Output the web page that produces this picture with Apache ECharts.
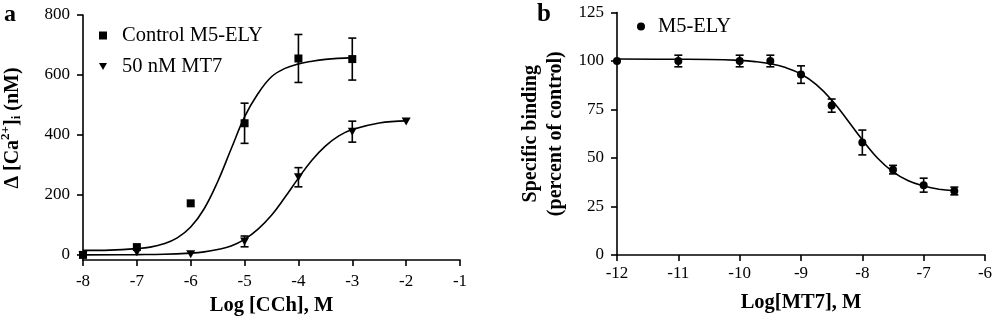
<!DOCTYPE html>
<html>
<head>
<meta charset="utf-8">
<script src="https://cdn.jsdelivr.net/npm/echarts@6/dist/echarts.min.js"></script>
<style>
html,body{margin:0;padding:0;background:#fff;}
#chart{width:1000px;height:321px;}
</style>
</head>
<body>
<div id="chart"></div>
<script>
// ---------- Panel a data ----------
const cchLogX = [-8, -7, -6, -5, -4, -3];
const controlMean = [0, 26, 172, 439, 655, 653];
const controlSem = [0, 0, 0, 67, 80, 70];
const mt7LogX = [-8, -7, -6, -5, -4, -3, -2];
const mt7Mean = [0, 9, 2, 45, 259, 411, 445];
const mt7Sem = [0, 0, 0, 18, 32, 35, 0];
const controlFitX = [-8, -7.5, -7, -6.75, -6.5, -6.25, -6, -5.75, -5.5, -5.25, -5, -4.75, -4.5, -4.25, -4, -3.75, -3.5, -3];
const controlFitY = [15, 16, 21, 26, 37, 57, 93, 154, 244, 353, 460, 538, 594, 622, 637, 646, 652, 658];
const mt7FitX = [-8, -7, -6.5, -6, -5.75, -5.5, -5.25, -5, -4.75, -4.5, -4.25, -4, -3.75, -3.5, -3.25, -3, -2.5, -2];
const mt7FitY = [0, 1, 2, 6, 10, 18, 30, 52, 86, 132, 192, 256, 316, 363, 397, 418, 440, 447];
const aYTicks = [0, 200, 400, 600, 800];

// ---------- Panel b data ----------
const mt7ConcX = [-12, -11, -10, -9.5, -9, -8.5, -8, -7.5, -7, -6.5];
const bindingMean = [100, 100, 100, 100, 93, 77, 58, 44, 36, 33];
const bindingSem = [0, 3, 3, 3, 4.5, 3.4, 6.4, 2.2, 3.6, 2];
const bindingFitX = [-12, -11, -10.5, -10, -9.75, -9.5, -9.25, -9, -8.75, -8.5, -8.25, -8, -7.75, -7.5, -7.25, -7, -6.75, -6.5];
const bindingFitY = [101, 100.9, 100.8, 100.3, 99.7, 98.6, 96.6, 93.3, 87.8, 79.9, 69.9, 59.4, 49.9, 42.9, 38.3, 35.6, 33.9, 33.1];

const FONT = '"Liberation Serif", "Times New Roman", Times, serif';
const BLACK = '#000';

function pairs(xs, ys) { return xs.map((x, i) => [x, ys[i]]); }

function errSeries(name, xs, means, sems, xi, yi) {
  const data = [];
  xs.forEach((x, i) => { if (sems[i] > 0) data.push([x, means[i] - sems[i], means[i] + sems[i]]); });
  return {
    name: name + ' err', type: 'custom', xAxisIndex: xi, yAxisIndex: yi, z: 3,
    data: data, encode: { x: 0, y: [1, 2] }, silent: true,
    renderItem: function (params, api) {
      const x = api.value(0);
      const lo = api.coord([x, api.value(1)]);
      const hi = api.coord([x, api.value(2)]);
      const w = 4;
      const st = { stroke: BLACK, lineWidth: 1.6 };
      return {
        type: 'group', children: [
          { type: 'line', shape: { x1: lo[0], y1: lo[1], x2: hi[0], y2: hi[1] }, style: st },
          { type: 'line', shape: { x1: lo[0] - w, y1: lo[1], x2: lo[0] + w, y2: lo[1] }, style: st },
          { type: 'line', shape: { x1: hi[0] - w, y1: hi[1], x2: hi[0] + w, y2: hi[1] }, style: st }
        ]
      };
    }
  };
}

const axisLineStyle = { show: true, onZero: false, lineStyle: { color: BLACK, width: 1.6 } };
const tickStyle = { show: true, inside: false, length: 6, lineStyle: { color: BLACK, width: 1.6 } };
const labelStyle = { color: BLACK, fontFamily: FONT, fontSize: 17 };
const nameStyle = { color: BLACK, fontFamily: FONT, fontSize: 20.5, fontWeight: 'bold' };

const chart = echarts.init(document.getElementById('chart'), null, { renderer: 'canvas' });

const option = {
  backgroundColor: '#fff',
  animation: false,
  grid: [
    { left: 83, top: 15, width: 377, height: 245, containLabel: false, outerBoundsMode: 'none' },
    { left: 617, top: 12.5, width: 368, height: 242.5, containLabel: false, outerBoundsMode: 'none' }
  ],
  xAxis: [
    {
      type: 'value', gridIndex: 0, min: -8, max: -1, interval: 1,
      axisLine: axisLineStyle, axisTick: tickStyle, splitLine: { show: false },
      axisLabel: Object.assign({ margin: 13 }, labelStyle),
      name: 'Log [CCh], M', nameLocation: 'middle', nameGap: 33, nameTextStyle: nameStyle
    },
    {
      type: 'value', gridIndex: 1, min: -12, max: -6, interval: 1,
      axisLine: axisLineStyle, axisTick: tickStyle, splitLine: { show: false },
      axisLabel: Object.assign({ margin: 10 }, labelStyle),
      name: 'Log[MT7], M', nameLocation: 'middle', nameGap: 37, nameTextStyle: nameStyle
    }
  ],
  yAxis: [
    {
      type: 'value', gridIndex: 0, min: -17, max: 800,
      axisLine: axisLineStyle,
      axisTick: Object.assign({ customValues: aYTicks }, tickStyle),
      splitLine: { show: false },
      axisLabel: Object.assign({ margin: 13, customValues: aYTicks }, labelStyle),
      name: 'Δ [Ca{sup|2+}]{sub|i} (nM)', nameLocation: 'middle', nameRotate: 90, nameGap: 57,
      nameTextStyle: Object.assign({}, nameStyle, {
        fontSize: 20,
        padding: [0, 0, 0, 19],
        rich: {
          sup: { fontFamily: FONT, fontWeight: 'bold', fontSize: 13, color: BLACK, padding: [0, 0, 14, 0] },
          sub: { fontFamily: FONT, fontWeight: 'bold', fontSize: 13, color: BLACK, padding: [9, 0, 0, 0] }
        }
      })
    },
    {
      type: 'value', gridIndex: 1, min: 0, max: 125, interval: 25,
      axisLine: axisLineStyle, axisTick: tickStyle, splitLine: { show: false },
      axisLabel: Object.assign({ margin: 13 }, labelStyle),
      name: 'Specific binding\n(percent of control)', nameLocation: 'middle', nameRotate: 90, nameGap: 49,
      nameTextStyle: Object.assign({}, nameStyle, { fontSize: 20, lineHeight: 25 })
    }
  ],
  legend: [
    {
      data: [
        { name: 'Control M5-ELY', icon: 'rect' },
        { name: '50 nM MT7', icon: 'path://M0,0L10,0L5,9Z' }
      ],
      orient: 'vertical', left: 99, top: 25, padding: 0, itemWidth: 8, itemHeight: 8, itemGap: 10,
      textStyle: { color: BLACK, fontFamily: FONT, fontSize: 20.5, lineHeight: 20, padding: [0, 0, 0, 10] }
    },
    {
      data: [{ name: 'M5-ELY', icon: 'circle' }],
      orient: 'vertical', left: 637, top: 16, padding: 0, itemWidth: 8, itemHeight: 8,
      textStyle: { color: BLACK, fontFamily: FONT, fontSize: 20.5, lineHeight: 20, padding: [0, 0, 0, 8] }
    }
  ],
  graphic: [
    { type: 'text', left: 4, top: 3, style: { text: 'a', fill: BLACK, font: 'bold 24px ' + FONT } },
    { type: 'text', left: 537, top: 2, style: { text: 'b', fill: BLACK, font: 'bold 25px ' + FONT } }
  ],
  series: [
    {
      name: 'control fit', type: 'line', xAxisIndex: 0, yAxisIndex: 0, data: pairs(controlFitX, controlFitY),
      showSymbol: false, smooth: 0.4, lineStyle: { color: BLACK, width: 1.6 }, silent: true, z: 2
    },
    {
      name: 'mt7 fit', type: 'line', xAxisIndex: 0, yAxisIndex: 0, data: pairs(mt7FitX, mt7FitY),
      showSymbol: false, smooth: 0.4, lineStyle: { color: BLACK, width: 1.6 }, silent: true, z: 2
    },
    errSeries('control', cchLogX, controlMean, controlSem, 0, 0),
    errSeries('mt7', mt7LogX, mt7Mean, mt7Sem, 0, 0),
    {
      name: 'Control M5-ELY', type: 'scatter', xAxisIndex: 0, yAxisIndex: 0, data: pairs(cchLogX, controlMean),
      symbol: 'rect', symbolSize: 8, itemStyle: { color: BLACK, opacity: 1 }, z: 4
    },
    {
      name: '50 nM MT7', type: 'scatter', xAxisIndex: 0, yAxisIndex: 0, data: pairs(mt7LogX, mt7Mean),
      symbol: 'triangle', symbolRotate: 180, symbolSize: [9, 8], itemStyle: { color: BLACK, opacity: 1 }, z: 4
    },
    {
      name: 'binding fit', type: 'line', xAxisIndex: 1, yAxisIndex: 1, data: pairs(bindingFitX, bindingFitY),
      showSymbol: false, smooth: 0.4, lineStyle: { color: BLACK, width: 1.6 }, silent: true, z: 2
    },
    errSeries('binding', mt7ConcX, bindingMean, bindingSem, 1, 1),
    {
      name: 'M5-ELY', type: 'scatter', xAxisIndex: 1, yAxisIndex: 1, data: pairs(mt7ConcX, bindingMean),
      symbol: 'circle', symbolSize: 8, itemStyle: { color: BLACK, opacity: 1 }, z: 4
    }
  ]
};
chart.setOption(option);
</script>
</body>
</html>
